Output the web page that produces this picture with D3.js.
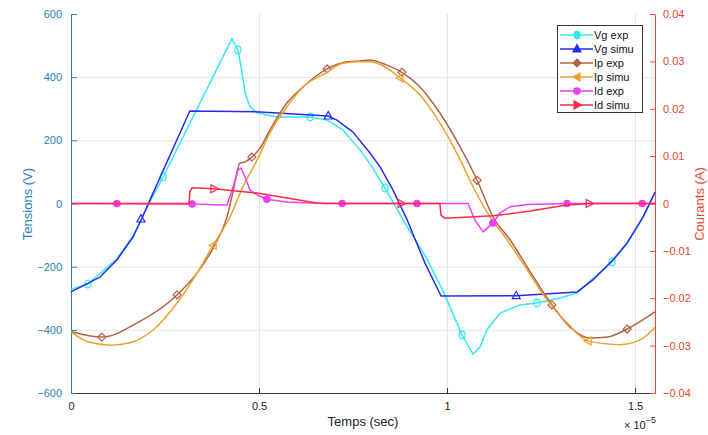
<!DOCTYPE html>
<html><head><meta charset="utf-8">
<script src="https://cdn.jsdelivr.net/npm/d3@7"></script>
<style>
body{margin:0;background:#fff;}
text{font-family:"Liberation Sans",Arial,sans-serif;}
</style></head>
<body><svg id="c" width="708" height="435"></svg>
<script>
// ---- data (time in 1e-5 s) ----
const xTicks = [0, 0.5, 1, 1.5];
const xTickLabels = ["0", "0.5", "1", "1.5"];
const vTicks = [-600, -400, -200, 0, 200, 400, 600];
const iTicks = [-0.04, -0.03, -0.02, -0.01, 0, 0.01, 0.02, 0.03, 0.04];
const seriesNames = ["Vg exp", "Vg simu", "Ip exp", "Ip simu", "Id exp", "Id simu"];

const vgExpT = [0, 0.045, 0.122, 0.165, 0.205, 0.245, 0.428, 0.444, 0.455, 0.463, 0.476, 0.495, 0.521, 0.548, 0.604, 0.636, 0.681, 0.723, 0.769, 0.803, 0.835, 0.856, 0.888, 0.945, 0.989, 1.040, 1.069, 1.088, 1.106, 1.141, 1.194, 1.239, 1.301, 1.346, 1.388, 1.439, 1.479, 1.521, 1.553];
const vgExpV = [-272, -255, -175, -103, -5, 84, 522, 486, 413, 350, 306, 287, 280, 274, 274, 274, 264, 233, 169, 112, 49, 5, -62, -172, -276, -416, -477, -454, -400, -347, -321, -315, -299, -283, -238, -185, -125, -45, 34];
const vgExpMarkT = [0.045, 0.245, 0.444, 0.636, 0.835, 1.040, 1.239, 1.439];
const vgExpMarkV = [-255, 84, 486, 274, 49, -416, -315, -185];

const vgSimT = [0, 0.077, 0.122, 0.165, 0.189, 0.205, 0.316, 0.503, 0.684, 0.707, 0.750, 0.795, 0.822, 0.856, 0.894, 0.941, 0.984, 1.184, 1.346, 1.388, 1.441, 1.479, 1.521, 1.553];
const vgSimV = [-280, -233, -179, -106, -46, -2, 293, 290, 277, 264, 226, 160, 116, 43, -52, -188, -293, -292, -280, -242, -179, -125, -43, 36];
const vgSimMarkT = [0.186, 0.684, 1.184];
const vgSimMarkV = [-49, 277, -292];

const ipExpT = [0, 0.082, 0.176, 0.282, 0.335, 0.378, 0.415, 0.431, 0.449, 0.463, 0.481, 0.503, 0.529, 0.574, 0.617, 0.681, 0.734, 0.769, 0.795, 0.840, 0.880, 0.928, 0.981, 1.035, 1.080, 1.122, 1.168, 1.213, 1.279, 1.327, 1.380, 1.426, 1.479, 1.553];
const ipExpI = [-0.0270, -0.0282, -0.0252, -0.0193, -0.0147, -0.0094, -0.0028, 0.0025, 0.0085, 0.0088, 0.0098, 0.0117, 0.0155, 0.0212, 0.0246, 0.0284, 0.0299, 0.0301, 0.0303, 0.0292, 0.0277, 0.0246, 0.0191, 0.0119, 0.0049, -0.0028, -0.0077, -0.0134, -0.0214, -0.0261, -0.0284, -0.0282, -0.0265, -0.0229];
const ipExpMarkT = [0.082, 0.282, 0.481, 0.681, 0.880, 1.080, 1.279, 1.479];
const ipExpMarkI = [-0.0282, -0.0193, 0.0098, 0.0284, 0.0277, 0.0049, -0.0214, -0.0265];

const ipSimT = [0, 0.045, 0.104, 0.157, 0.218, 0.282, 0.335, 0.378, 0.423, 0.457, 0.495, 0.529, 0.574, 0.617, 0.681, 0.723, 0.769, 0.795, 0.840, 0.875, 0.928, 0.981, 1.035, 1.074, 1.114, 1.160, 1.213, 1.266, 1.319, 1.375, 1.460, 1.513, 1.553];
const ipSimI = [-0.0271, -0.0292, -0.0299, -0.0294, -0.0267, -0.0210, -0.0147, -0.0088, -0.0028, 0.0035, 0.0092, 0.0149, 0.0204, 0.0246, 0.0277, 0.0296, 0.0299, 0.0299, 0.0286, 0.0265, 0.0229, 0.0170, 0.0092, 0.0028, -0.0028, -0.0077, -0.0140, -0.0204, -0.0252, -0.0290, -0.0298, -0.0288, -0.0261];
const ipSimMarkT = [0.378, 0.875, 1.375];
const ipSimMarkI = [-0.0088, 0.0265, -0.0290];

const idExpT = [0, 0.322, 0.407, 0.415, 0.431, 0.444, 0.452, 0.463, 0.476, 0.495, 0.521, 0.574, 0.636, 0.721, 1.056, 1.074, 1.096, 1.122, 1.141, 1.168, 1.213, 1.319, 1.553];
const idExpI = [0, -0.0001, -0.0003, -0.0003, 0.0035, 0.0070, 0.0075, 0.0056, 0.0028, 0.0018, 0.0009, 0.0003, 0.0001, 0, 0, -0.0035, -0.0060, -0.0041, -0.0020, -0.0007, -0.0002, 0, 0];
const idExpMarkT = [0.122, 0.322, 0.521, 0.721, 0.920, 1.122, 1.319, 1.519];
const idExpMarkI = [0, -0.0001, 0.0009, 0, 0, -0.0041, 0, 0];

const idSimT = [0, 0.314, 0.316, 0.322, 0.380, 0.495, 0.654, 0.675, 0.981, 0.984, 0.994, 1.122, 1.221, 1.319, 1.380, 1.553];
const idSimI = [0, 0, 0.0025, 0.0033, 0.0031, 0.0022, 0.0001, 0, 0, -0.0025, -0.0031, -0.0026, -0.0016, -0.0003, 0, 0];
const idSimMarkT = [0.380, 0.878, 1.378];
const idSimMarkI = [0.0031, 0, 0];

// ---- layout ----
const svg = d3.select("#c");
const L = 71, R = 655, T = 14, B = 393;
const x = d3.scaleLinear().domain([0, 1.553]).range([L, R]);
const yV = d3.scaleLinear().domain([-600, 600]).range([B, T]);
const yI = d3.scaleLinear().domain([-0.04, 0.04]).range([B, T]);

const blueAx = "#2a7fb5", redAx = "#e8452c";

// grid
const grid = svg.append("g").attr("stroke", "#e6e6e6").attr("stroke-width", 1);
[-400, -200, 200, 400].forEach(v => grid.append("line").attr("x1", L).attr("x2", R).attr("y1", yV(v) + 0.5).attr("y2", yV(v) + 0.5));
[0.5, 1, 1.5].forEach(t => grid.append("line").attr("x1", Math.round(x(t)) + 0.5).attr("x2", Math.round(x(t)) + 0.5).attr("y1", T).attr("y2", B));

// axes
const gx = svg.append("g").attr("transform", `translate(0,${B})`)
  .call(d3.axisBottom(x).tickValues(xTicks).tickFormat((d, i) => xTickLabels[i]).tickSizeInner(-5).tickSizeOuter(0).tickPadding(9));
gx.select(".domain").attr("stroke", "#333");
gx.selectAll(".tick line").attr("stroke", "#333");
gx.selectAll("text").attr("fill", "#222").style("font-size", "11px");

const gl = svg.append("g").attr("transform", `translate(${L},0)`)
  .call(d3.axisLeft(yV).tickValues(vTicks).tickSizeInner(-6).tickSizeOuter(0).tickPadding(9));
gl.select(".domain").attr("stroke", blueAx);
gl.selectAll(".tick line").attr("stroke", blueAx);
gl.selectAll("text").attr("fill", blueAx).style("font-size", "11px");

const gr = svg.append("g").attr("transform", `translate(${R},0)`)
  .call(d3.axisRight(yI).tickValues(iTicks).tickFormat(d => d === 0 ? "0" : d3.format(".2f")(d)).tickSizeInner(-5).tickSizeOuter(0).tickPadding(8));
gr.select(".domain").attr("stroke", redAx);
gr.selectAll(".tick line").attr("stroke", redAx);
gr.selectAll("text").attr("fill", redAx).style("font-size", "11px");

// titles
svg.append("text").attr("x", (L + R) / 2).attr("y", 426).attr("text-anchor", "middle").style("font-size", "13px").attr("fill", "#222").text("Temps (sec)");
svg.append("text").attr("transform", "translate(32,204) rotate(-90)").attr("text-anchor", "middle").style("font-size", "13px").attr("fill", blueAx).text("Tensions (V)");
svg.append("text").attr("transform", "translate(704,204) rotate(-90)").attr("text-anchor", "middle").style("font-size", "13px").attr("fill", redAx).text("Courants (A)");
const ex = svg.append("text").attr("x", 624).attr("y", 429).style("font-size", "11px").attr("fill", "#222");
ex.append("tspan").text("\u00d7 10");
ex.append("tspan").attr("dy", -6).style("font-size", "9px").text("\u22125");

// series
function zip(a, b) { return a.map((v, i) => [v, b[i]]); }
const series = [
  { name: seriesNames[0], pts: zip(vgExpT, vgExpV), mk: zip(vgExpMarkT, vgExpMarkV), y: yV, color: "#33e8f0", sym: "circle", fill: false, curve: d3.curveLinear },
  { name: seriesNames[1], pts: zip(vgSimT, vgSimV), mk: zip(vgSimMarkT, vgSimMarkV), y: yV, color: "#2a2af0", sym: "triUp", fill: false, curve: d3.curveLinear },
  { name: seriesNames[2], pts: zip(ipExpT, ipExpI), mk: zip(ipExpMarkT, ipExpMarkI), y: yI, color: "#b0624a", sym: "diamond", fill: false, curve: d3.curveMonotoneX },
  { name: seriesNames[3], pts: zip(ipSimT, ipSimI), mk: zip(ipSimMarkT, ipSimMarkI), y: yI, color: "#eda22c", sym: "triLeft", fill: false, curve: d3.curveMonotoneX },
  { name: seriesNames[4], pts: zip(idExpT, idExpI), mk: zip(idExpMarkT, idExpMarkI), y: yI, color: "#f03ef0", sym: "dot", fill: true, curve: d3.curveLinear },
  { name: seriesNames[5], pts: zip(idSimT, idSimI), mk: zip(idSimMarkT, idSimMarkI), y: yI, color: "#ff2a48", sym: "triRight", fill: false, curve: d3.curveLinear }
];

function drawMarker(g, cx, cy, s) {
  let el;
  const c = s.color;
  if (s.sym === "circle") el = g.append("ellipse").attr("cx", cx).attr("cy", cy).attr("rx", 3).attr("ry", 3.8);
  else if (s.sym === "dot") el = g.append("circle").attr("cx", cx).attr("cy", cy).attr("r", 3.2);
  else if (s.sym === "diamond") el = g.append("path").attr("d", `M${cx},${cy - 4}L${cx + 4},${cy}L${cx},${cy + 4}L${cx - 4},${cy}Z`);
  else if (s.sym === "triUp") el = g.append("path").attr("d", `M${cx},${cy - 4.5}L${cx + 4},${cy + 3}L${cx - 4},${cy + 3}Z`);
  else if (s.sym === "triLeft") el = g.append("path").attr("d", `M${cx - 4},${cy}L${cx + 3},${cy - 4}L${cx + 3},${cy + 4}Z`);
  else if (s.sym === "triRight") el = g.append("path").attr("d", `M${cx + 4.5},${cy}L${cx - 3},${cy - 4}L${cx - 3},${cy + 4}Z`);
  el.attr("stroke", c).attr("stroke-width", 1.2).attr("fill", s.fill ? c : "none");
}

const plot = svg.append("g");
series.forEach(s => {
  const line = d3.line().x(d => x(d[0])).y(d => s.y(d[1])).curve(s.curve);
  plot.append("path").datum(s.pts).attr("d", line).attr("fill", "none").attr("stroke", s.color).attr("stroke-width", 1.5).attr("stroke-linejoin", "round");
  s.mk.forEach(d => drawMarker(plot, x(d[0]), s.y(d[1]), s));
});

// legend
const lg = svg.append("g");
lg.append("rect").attr("x", 557.5).attr("y", 25.5).attr("width", 85).attr("height", 87).attr("fill", "#fff").attr("stroke", "#333").attr("stroke-width", 1);
series.forEach((s, i) => {
  const yy = 35 + i * 14;
  lg.append("line").attr("x1", 560).attr("x2", 593).attr("y1", yy).attr("y2", yy).attr("stroke", s.color).attr("stroke-width", 1.5);
  drawMarker(lg, 577, yy, Object.assign({}, s, { fill: true }));
  lg.append("text").attr("x", 594).attr("y", yy + 4).style("font-size", "11px").attr("fill", "#111").text(s.name);
});
</script></body></html>
